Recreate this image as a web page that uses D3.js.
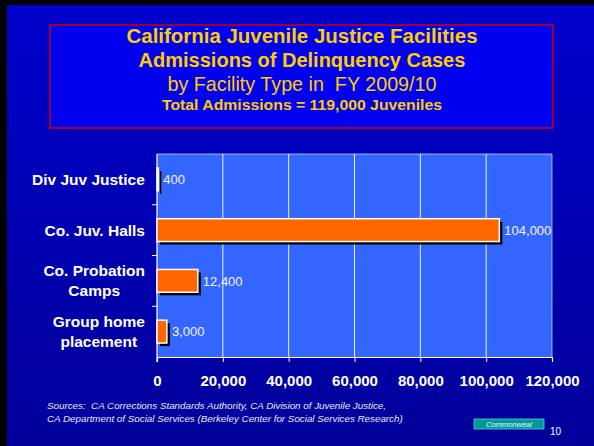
<!DOCTYPE html>
<html>
<head>
<meta charset="utf-8">
<script src="https://cdn.jsdelivr.net/npm/d3@7"></script>
<style>
  html, body { margin: 0; padding: 0; background: #000; }
  svg { display: block; }
</style>
</head>
<body>
<svg id="chart" width="594" height="446"></svg>
<script>
// ---- data ----
const categories = ["Div Juv Justice", "Co. Juv. Halls", "Co. Probation|Camps", "Group home|placement"];
const admissions = [400, 104000, 12400, 3000];
const valueLabels = ["400", "104,000", "12,400", "3,000"];
const xTicks = [0, 20000, 40000, 60000, 80000, 100000, 120000];

const titleLines = [
  "California Juvenile Justice Facilities",
  "Admissions of Delinquency Cases",
  "by Facility Type in  FY 2009/10",
  "Total Admissions = 119,000 Juveniles",
];
const sourceLines = [
  "Sources:  CA Corrections Standards Authority, CA Division of Juvenile Justice,",
  "CA Department of Social Services (Berkeley Center for Social Services Research)",
];

const data = categories.map((c, i) => ({ cat: c, value: admissions[i], label: valueLabels[i] }));

const svg = d3.select("#chart");
const FONT = "Arial, 'Liberation Sans', sans-serif";

// background
const defs = svg.append("defs");
const grad = defs.append("linearGradient").attr("id", "bg").attr("x1", 0).attr("y1", 0).attr("x2", 0).attr("y2", 1);
grad.append("stop").attr("offset", "0%").attr("stop-color", "#0000CC");
grad.append("stop").attr("offset", "100%").attr("stop-color", "#000099");

svg.append("rect").attr("width", 594).attr("height", 446).attr("fill", "#000");
svg.append("rect").attr("x", 7).attr("y", 5).attr("width", 587).attr("height", 441).attr("fill", "url(#bg)");

// title box
svg.append("rect")
  .attr("x", 50).attr("y", 25).attr("width", 503).attr("height", 103)
  .attr("fill", "#0000F0").attr("stroke", "#CC0000").attr("stroke-width", 1.5);

const titleStyles = [
  { y: 43, size: 20, weight: "bold", len: 351 },
  { y: 67, size: 20, weight: "bold", len: 0 },
  { y: 91, size: 21, weight: "normal", len: 269 },
  { y: 110, size: 15.5, weight: "bold", len: 280 },
];
titleLines.forEach((t, i) => {
  const s = titleStyles[i];
  const txt = svg.append("text")
    .attr("x", 302).attr("y", s.y)
    .attr("text-anchor", "middle")
    .attr("fill", "#FFCC00")
    .style("font-family", FONT)
    .style("font-size", s.size + "px")
    .style("font-weight", s.weight)
    .style("white-space", "pre")
    .text(t);
  if (s.len) txt.attr("textLength", s.len).attr("lengthAdjust", "spacingAndGlyphs");
});

// ---- chart ----
const plot = { left: 157, right: 552, top: 154, bottom: 357 };

const x = d3.scaleLinear().domain([0, 120000]).range([plot.left, plot.right]);
const y = d3.scaleBand().domain(categories).range([plot.top, plot.bottom])
  .paddingInner(0.55).paddingOuter(0.275);

svg.append("rect")
  .attr("x", plot.left).attr("y", plot.top)
  .attr("width", plot.right - plot.left).attr("height", plot.bottom - plot.top)
  .attr("fill", "#3366FF");

// gridlines
svg.append("g")
  .selectAll("line")
  .data(xTicks.slice(1))
  .join("line")
  .attr("x1", (d) => x(d)).attr("x2", (d) => x(d))
  .attr("y1", plot.top).attr("y2", plot.bottom)
  .attr("stroke", "#fff")
  .attr("stroke-opacity", (d, i) => (i === xTicks.length - 2 ? 0.6 : 0.9))
  .attr("stroke-width", 1);

// top border
svg.append("line")
  .attr("x1", plot.left).attr("x2", plot.right)
  .attr("y1", plot.top).attr("y2", plot.top)
  .attr("stroke", "#fff").attr("stroke-opacity", 0.6);

// x axis
const xAxisG = svg.append("g")
  .attr("transform", `translate(0,${plot.bottom})`)
  .call(d3.axisBottom(x).tickValues(xTicks).tickSize(5).tickPadding(13).tickFormat(d3.format(",")));
xAxisG.select(".domain").attr("stroke", "#fff").attr("stroke-width", 1.2);
xAxisG.selectAll(".tick line").attr("stroke", "#fff");
xAxisG.selectAll("text")
  .attr("fill", "#fff")
  .style("font-family", FONT)
  .style("font-size", "15px")
  .style("font-weight", "bold");

// y axis ticks at band boundaries
const step = y.step();
const boundaries = categories.slice(1).map((c) => y(c) - (step - y.bandwidth()) / 2);
svg.append("line")
  .attr("x1", plot.left).attr("x2", plot.left)
  .attr("y1", plot.top).attr("y2", plot.bottom + 5)
  .attr("stroke", "#fff").attr("stroke-width", 1.2);
svg.append("g")
  .selectAll("line")
  .data(boundaries)
  .join("line")
  .attr("x1", plot.left - 5).attr("x2", plot.left)
  .attr("y1", (d) => d).attr("y2", (d) => d)
  .attr("stroke", "#fff");

// bar shadows
svg.append("g")
  .selectAll("rect")
  .data(data)
  .join("rect")
  .attr("x", x(0) + 3)
  .attr("y", (d) => y(d.cat) + 3)
  .attr("width", (d) => x(d.value) - x(0))
  .attr("height", y.bandwidth())
  .attr("fill", "#000");

// bars
svg.append("g")
  .selectAll("rect")
  .data(data)
  .join("rect")
  .attr("x", x(0))
  .attr("y", (d) => y(d.cat))
  .attr("width", (d) => x(d.value) - x(0))
  .attr("height", y.bandwidth())
  .attr("fill", "#FF6600")
  .attr("stroke", "#fff")
  .attr("stroke-width", 1.5);

// value labels
svg.append("g")
  .selectAll("text")
  .data(data)
  .join("text")
  .attr("x", (d) => x(d.value) + 5)
  .attr("y", (d) => y(d.cat) + y.bandwidth() / 2)
  .attr("dy", "0.36em")
  .attr("fill", "#f4f4ff")
  .style("font-family", FONT)
  .style("font-size", "13px")
  .text((d) => d.label);

// category labels
const catG = svg.append("g");
data.forEach((d) => {
  const lines = d.cat.split("|");
  const cy = y(d.cat) + y.bandwidth() / 2;
  const lh = 20;
  const t = catG.append("text")
    .attr("fill", "#fff")
    .style("font-family", FONT)
    .style("font-size", "15.5px")
    .style("font-weight", "bold")
    .attr("text-anchor", "middle");
  lines.forEach((ln, i) => {
    t.append("tspan")
      .attr("x", 0)
      .attr("y", cy + (i - (lines.length - 1) / 2) * lh)
      .attr("dy", "0.36em")
      .text(ln);
  });
  const w = t.node().getBBox().width;
  t.attr("transform", `translate(${145 - w / 2},0)`);
});

// sources
sourceLines.forEach((s, i) => {
  svg.append("text")
    .attr("x", 47).attr("y", 409 + i * 13)
    .attr("fill", "#e8e8ff")
    .style("font-family", FONT)
    .style("font-size", "9.8px")
    .style("font-style", "italic")
    .style("white-space", "pre")
    .text(s);
});

// footer badge
svg.append("rect")
  .attr("x", 474).attr("y", 419).attr("width", 70).attr("height", 10)
  .attr("fill", "#009999").attr("stroke", "#66cccc").attr("stroke-width", 0.8);
svg.append("text")
  .attr("x", 509).attr("y", 427)
  .attr("text-anchor", "middle")
  .attr("fill", "#e0ffff")
  .style("font-family", FONT)
  .style("font-size", "7.5px")
  .style("font-style", "italic")
  .text("Commonweal");
svg.append("text")
  .attr("x", 550).attr("y", 435)
  .attr("fill", "#fff")
  .style("font-family", FONT)
  .style("font-size", "10px")
  .text("10");
</script>
</body>
</html>
